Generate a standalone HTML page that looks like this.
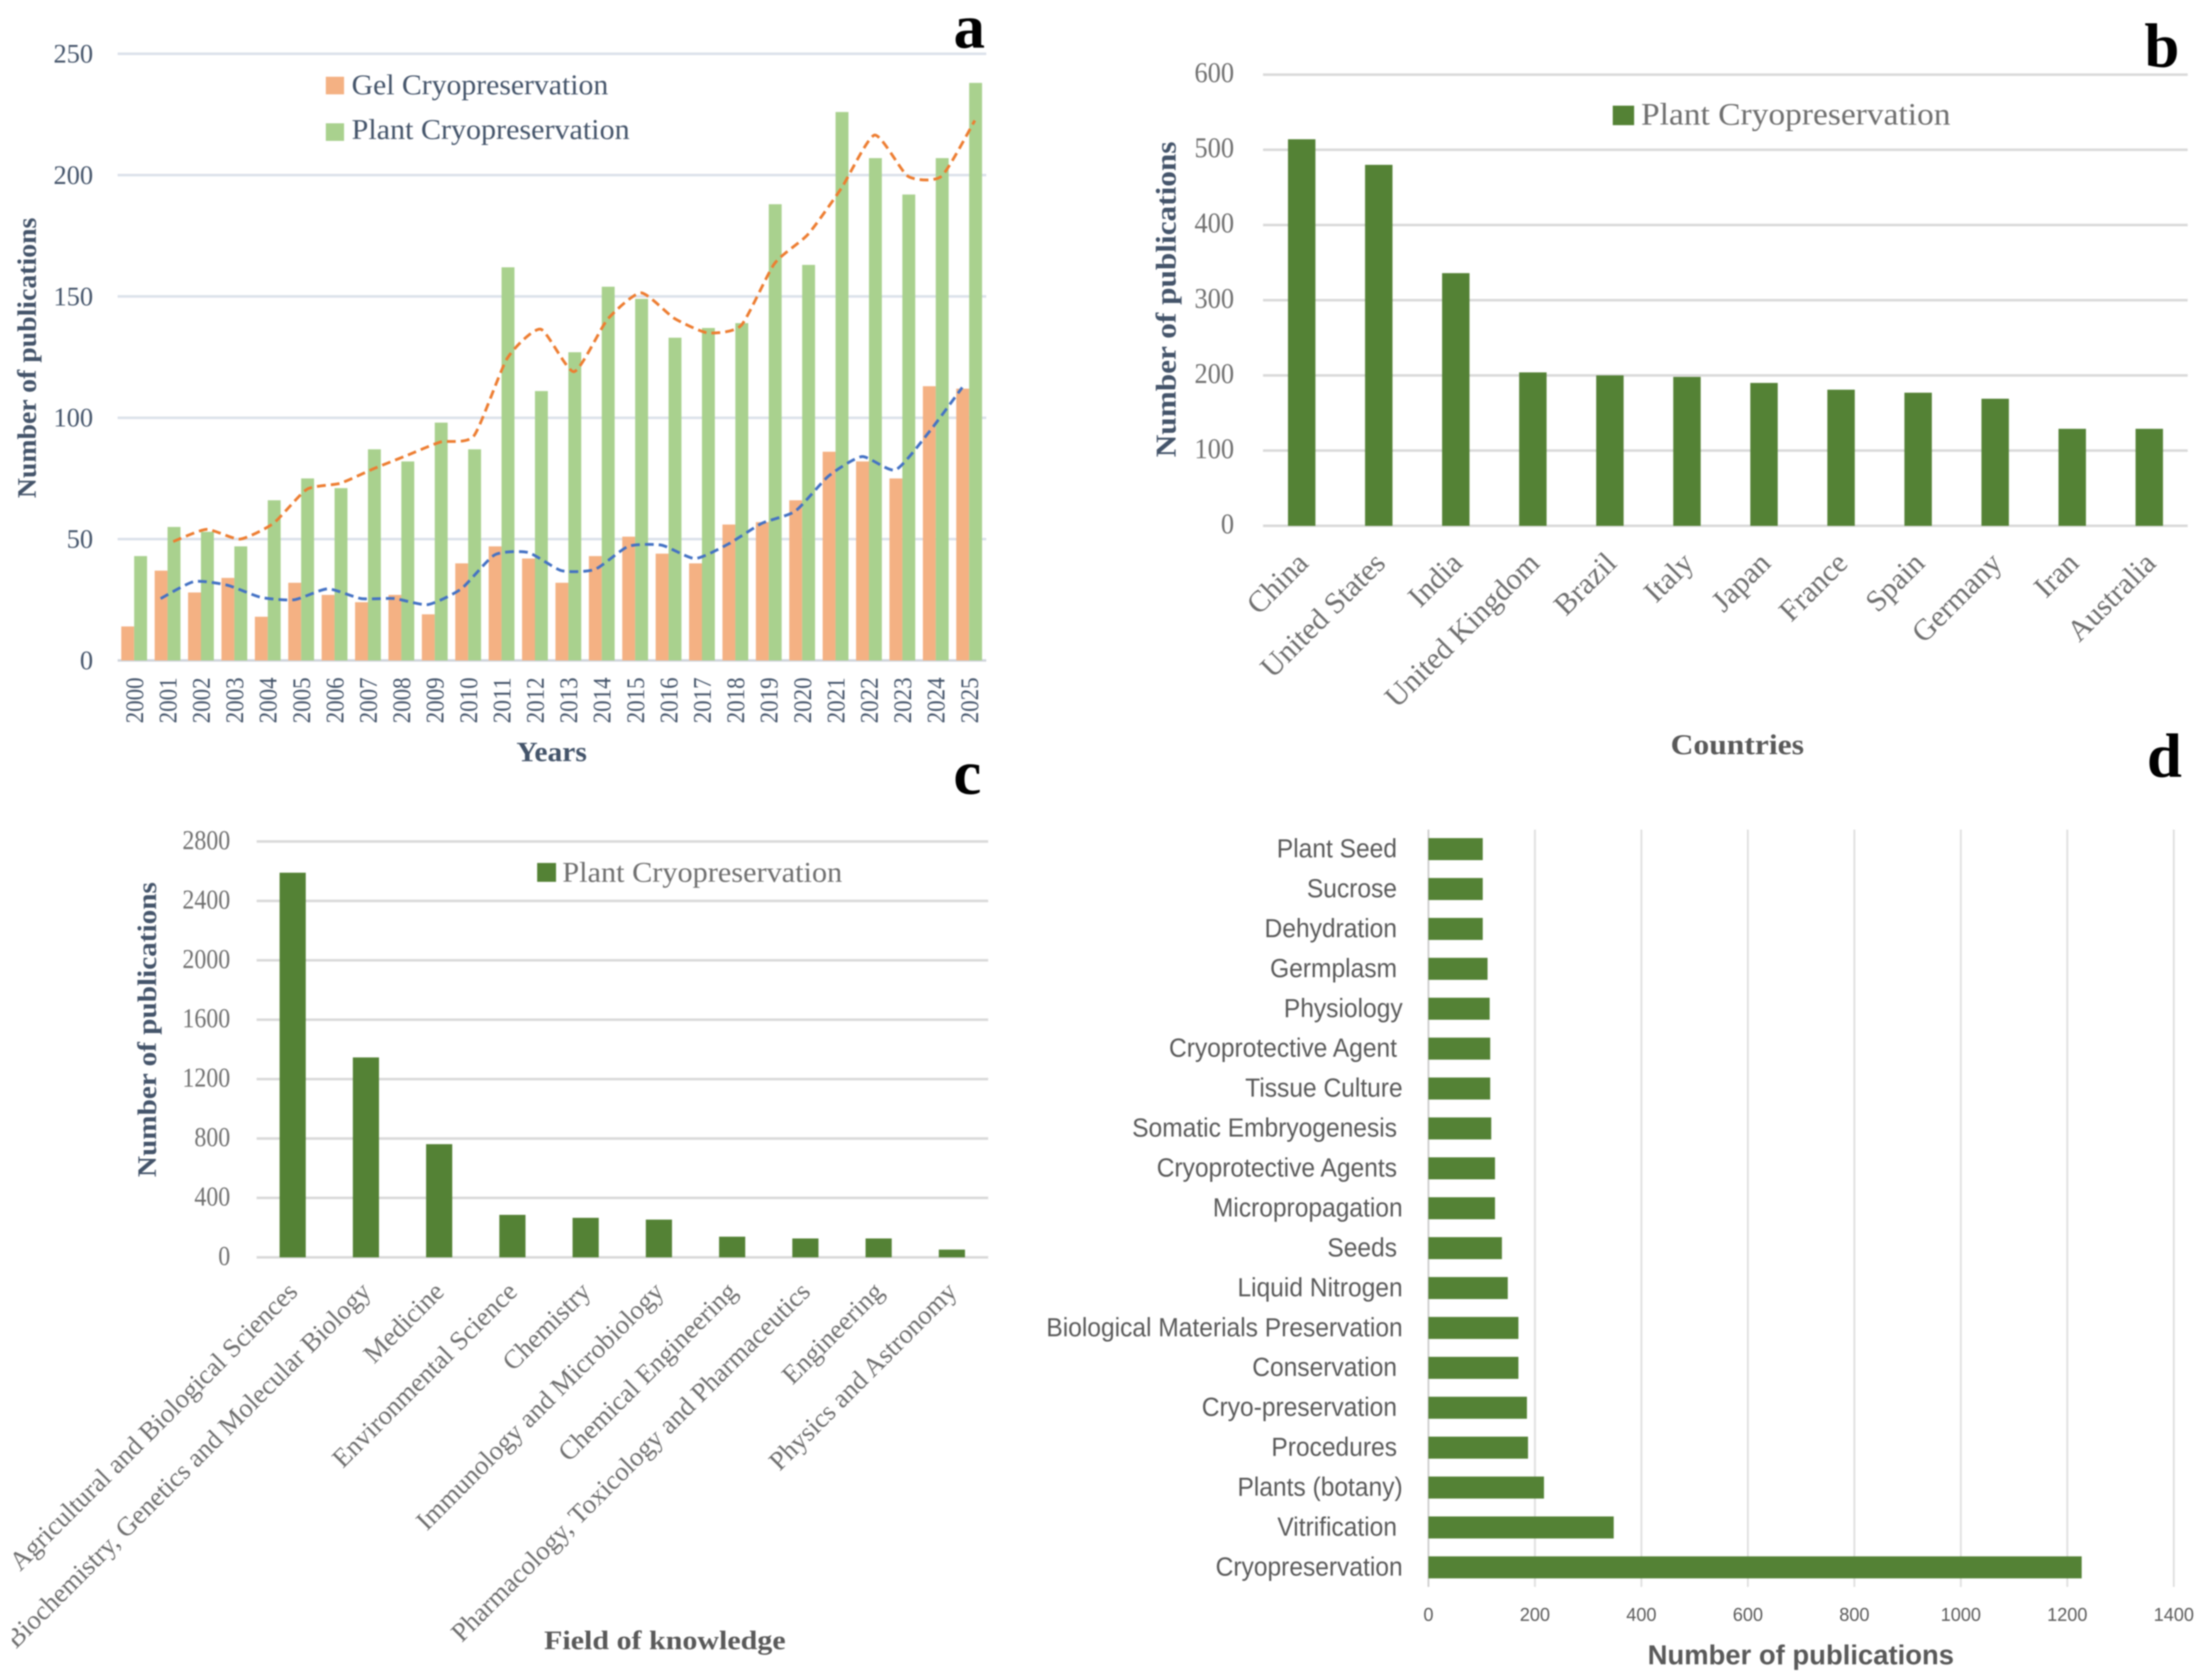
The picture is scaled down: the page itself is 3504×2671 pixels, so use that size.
<!DOCTYPE html>
<html lang="en">
<head>
<meta charset="utf-8">
<title>Cryopreservation publication charts</title>
<style>
  html,body{margin:0;padding:0;background:#fff;}
  svg{display:block;filter:blur(1.1px);}
  .serif{font-family:"Liberation Serif",serif;}
  .sans{font-family:"Liberation Sans",sans-serif;}
  .navy{fill:#44546a;}
  .grey{fill:#6f6f6f;}
  .lbl{fill:#595959;}
</style>
</head>
<body>
<svg id="figure" xmlns="http://www.w3.org/2000/svg" width="3504" height="2671" viewBox="0 0 3504 2671">
  <rect x="0" y="0" width="3504" height="2671" fill="#ffffff"/>

  <g id="panel-a">
    <g id="a-grid"></g>
    <g id="a-bars"></g>
    <g id="a-lines"></g>
    <g id="a-ticks"></g>
    <text class="serif navy" font-weight="bold" font-size="42" text-anchor="middle" textLength="446" lengthAdjust="spacingAndGlyphs" transform="translate(57,569) rotate(-90)">Number of publications</text>
    <text class="serif navy" font-weight="bold" font-size="44" text-anchor="middle" x="877" y="1210" textLength="112" lengthAdjust="spacingAndGlyphs">Years</text>
    <rect x="518" y="122" width="29" height="28" fill="#f4b183"/>
    <text class="serif navy" font-size="46" x="559" y="150" textLength="408" lengthAdjust="spacingAndGlyphs">Gel Cryopreservation</text>
    <rect x="518" y="196" width="29" height="28" fill="#a9d18e"/>
    <text class="serif navy" font-size="46" x="559" y="221" textLength="442" lengthAdjust="spacingAndGlyphs">Plant Cryopreservation</text>
    <text class="serif" font-weight="bold" font-size="100" fill="#000" text-anchor="middle" x="1541" y="76">a</text>
  </g>

  <g id="panel-b">
    <g id="b-grid"></g>
    <g id="b-bars"></g>
    <g id="b-ticks"></g>
    <text class="serif navy" font-weight="bold" font-size="46" text-anchor="middle" textLength="502" lengthAdjust="spacingAndGlyphs" transform="translate(1869,476) rotate(-90)">Number of publications</text>
    <text class="serif lbl" font-weight="bold" font-size="46" text-anchor="middle" x="2762" y="1199" textLength="212" lengthAdjust="spacingAndGlyphs">Countries</text>
    <rect x="2564" y="168" width="34" height="31" fill="#548235"/>
    <text class="serif grey" font-size="50" x="2609" y="198" textLength="492" lengthAdjust="spacingAndGlyphs">Plant Cryopreservation</text>
    <text class="serif" font-weight="bold" font-size="100" fill="#000" text-anchor="middle" x="3437" y="106">b</text>
  </g>

  <g id="panel-c">
    <g id="c-grid"></g>
    <g id="c-bars"></g>
    <g id="c-ticks"></g>
    <text class="serif navy" font-weight="bold" font-size="42" text-anchor="middle" textLength="469" lengthAdjust="spacingAndGlyphs" transform="translate(248,1637) rotate(-90)">Number of publications</text>
    <text class="serif lbl" font-weight="bold" font-size="42" text-anchor="middle" x="1057" y="2622" textLength="384" lengthAdjust="spacingAndGlyphs">Field of knowledge</text>
    <rect x="854" y="1372" width="30" height="30" fill="#548235"/>
    <text class="serif grey" font-size="46" x="894" y="1402" textLength="445" lengthAdjust="spacingAndGlyphs">Plant Cryopreservation</text>
    <text class="serif" font-weight="bold" font-size="100" fill="#000" text-anchor="middle" x="1538" y="1262">c</text>
  </g>

  <g id="panel-d">
    <g id="d-grid"></g>
    <g id="d-bars"></g>
    <g id="d-ticks"></g>
    <text class="sans lbl" font-weight="bold" font-size="44" text-anchor="middle" x="2863" y="2646" textLength="487" lengthAdjust="spacingAndGlyphs">Number of publications</text>
    <text class="serif" font-weight="bold" font-size="100" fill="#000" text-anchor="middle" x="3441" y="1235">d</text>
  </g>
</svg>

<script>
// ---- Panel a data ----
const aYears = ['2000','2001','2002','2003','2004','2005','2006','2007','2008','2009','2010','2011','2012','2013','2014','2015','2016','2017','2018','2019','2020','2021','2022','2023','2024','2025'];
const aGel = [14,37,28,34,18,32,27,24,27,19,40,47,42,32,43,51,44,40,56,57,66,86,82,75,113,112];
const aPlant = [43,55,53,47,66,75,71,87,82,98,87,162,111,127,154,149,133,137,139,188,163,226,207,192,207,238];
const aGelTrend = [25.5,32.5,31,26,25,29.5,25.5,25.5,23,29.5,43.5,44.5,37,37.5,47,47.5,42,48,56.5,61.5,76,84,78.5,94,112.5];
const aPlantTrend = [49,54,50,56.5,70.5,73,79,84.5,90,92.5,124.5,136.5,119,140.5,151.5,141,135,138,163.5,175.5,194.5,216.5,199.5,199.5,222.5];
const aTicks = [0,50,100,150,200,250];

// ---- Panel b data ----
const bCountries = ['China','United States','India','United Kingdom','Brazil','Italy','Japan','France','Spain','Germany','Iran','Australia'];
const bValues = [514,480,336,204,200,198,190,181,177,169,129,129];
const bTicks = [0,100,200,300,400,500,600];

// ---- Panel c data ----
const cFields = ['Agricultural and Biological Sciences','Biochemistry, Genetics and Molecular Biology','Medicine','Environmental Science','Chemistry','Immunology and Microbiology','Chemical Engineering','Pharmacology, Toxicology and Pharmaceutics','Engineering','Physics and Astronomy'];
const cValues = [2590,1346,762,286,266,254,139,127,127,52];
const cTicks = [0,400,800,1200,1600,2000,2400,2800];

// ---- Panel d data ----
const dKeywords = ['Plant Seed','Sucrose','Dehydration','Germplasm','Physiology','Cryoprotective Agent','Tissue Culture','Somatic Embryogenesis','Cryoprotective Agents','Micropropagation','Seeds','Liquid Nitrogen','Biological Materials Preservation','Conservation','Cryo-preservation','Procedures','Plants (botany)','Vitrification','Cryopreservation'];
const dValues = [102,102,102,111,115,116,116,118,125,125,138,149,169,169,185,187,217,348,1227];
const dTicks = [0,200,400,600,800,1000,1200,1400];
const dFlushRight = ['Physiology','Tissue Culture','Micropropagation','Liquid Nitrogen','Biological Materials Preservation','Plants (botany)','Cryopreservation'];

// ---- Axis functions ----
const aX = function (i) { return 213.3 + i * 53.1; };
const aY = function (v) { return 1050 - v * 3.858; };
const bX = function (i) { return 2069.5 + i * 122.5; };
const bY = function (v) { return 836 - v * 1.1957; };
const cX = function (i) { return 465.3 + i * 116.45; };
const cY = function (v) { return 1999 - v * 0.2361; };
const dX = function (v) { return 2271 + v * 0.8464; };
const dY = function (i) { return 1350 + i * 63.44; };

const NS = 'http://www.w3.org/2000/svg';
function node(tag, parentId, props, text) {
  const el = document.createElementNS(NS, tag);
  for (const k in props) el.setAttribute(k, props[k]);
  if (text !== undefined) el.textContent = text;
  document.getElementById(parentId).appendChild(el);
  return el;
}
function smoothPath(points) {
  let d = 'M' + points[0][0] + ' ' + points[0][1];
  for (let i = 0; i < points.length - 1; i++) {
    const p0 = points[Math.max(i - 1, 0)], p1 = points[i], p2 = points[i + 1], p3 = points[Math.min(i + 2, points.length - 1)];
    const c1x = p1[0] + (p2[0] - p0[0]) / 10, c1y = p1[1] + (p2[1] - p0[1]) / 10;
    const c2x = p2[0] - (p3[0] - p1[0]) / 10, c2y = p2[1] - (p3[1] - p1[1]) / 10;
    d += ' C' + c1x + ' ' + c1y + ' ' + c2x + ' ' + c2y + ' ' + p2[0] + ' ' + p2[1];
  }
  return d;
}

// ---- Panel a ----
aTicks.forEach(function (t) {
  const line = node('line', 'a-grid', {x1: 187, x2: 1568, y1: aY(t), y2: aY(t), stroke: t === 0 ? '#d0d5dc' : '#dbe1ea', 'stroke-width': 4});
  
  
  const label = node('text', 'a-ticks', {x: 148, y: aY(t) + 14, 'text-anchor': 'end', 'font-size': 42, class: 'serif navy'}, String(t));
  
  
});
aYears.forEach(function (year, i) {
  const gel = node('rect', 'a-bars', {x: aX(i) - 20.5, y: aY(aGel[i]), width: 20.5, height: 1050 - aY(aGel[i]), fill: '#f4b183'});
  
  
  const plant = node('rect', 'a-bars', {x: aX(i), y: aY(aPlant[i]), width: 20.5, height: 1050 - aY(aPlant[i]), fill: '#a9d18e'});
  
  
  const label = node('text', 'a-ticks', {'text-anchor': 'end', 'font-size': 40, class: 'serif navy', textLength: 73, lengthAdjust: 'spacingAndGlyphs', transform: 'translate(' + (aX(i) + 14) + ',1077) rotate(-90)'}, year);
  
  
});
const gelPts = aGelTrend.map(function (v, i) { return [aX(i + 1) - 11, aY(v)]; });
const plantPts = aPlantTrend.map(function (v, i) { return [aX(i + 1) + 9, aY(v)]; });
const gelLine = node('path', 'a-lines', {d: smoothPath(gelPts), fill: 'none', stroke: '#4472c4', 'stroke-width': 4.5, 'stroke-dasharray': '14 8'});


const plantLine = node('path', 'a-lines', {d: smoothPath(plantPts), fill: 'none', stroke: '#ed7d31', 'stroke-width': 4.5, 'stroke-dasharray': '14 8'});



// ---- Panel b ----
bTicks.forEach(function (t) {
  const line = node('line', 'b-grid', {x1: 2008, x2: 3478, y1: bY(t), y2: bY(t), stroke: '#d9d9d9', 'stroke-width': 4});
  
  
  const label = node('text', 'b-ticks', {x: 1962, y: bY(t) + 12, 'text-anchor': 'end', 'font-size': 45, class: 'serif grey', textLength: String(t).length * 21, lengthAdjust: 'spacingAndGlyphs'}, String(t));
  
  
});
bCountries.forEach(function (name, i) {
  const bar = node('rect', 'b-bars', {x: bX(i) - 21.8, y: bY(bValues[i]), width: 43.6, height: 836 - bY(bValues[i]), fill: '#548235'});
  
  
  const label = node('text', 'b-ticks', {'text-anchor': 'end', 'font-size': 48, class: 'serif grey', transform: 'translate(' + (bX(i) + 13) + ',898) rotate(-45)'}, name);
  
  
});

// ---- Panel c ----
cTicks.forEach(function (t) {
  const line = node('line', 'c-grid', {x1: 408, x2: 1571, y1: cY(t), y2: cY(t), stroke: '#d9d9d9', 'stroke-width': 4});
  
  
  const label = node('text', 'c-ticks', {x: 366, y: cY(t) + 12, 'text-anchor': 'end', 'font-size': 43, class: 'serif grey', textLength: String(t).length * 19, lengthAdjust: 'spacingAndGlyphs'}, String(t));
  
  
});
cFields.forEach(function (name, i) {
  const bar = node('rect', 'c-bars', {x: cX(i) - 20.8, y: cY(cValues[i]), width: 41.6, height: 1999 - cY(cValues[i]), fill: '#548235'});
  
  
  const label = node('text', 'c-ticks', {'text-anchor': 'end', 'font-size': 42.5, class: 'serif grey', transform: 'translate(' + (cX(i) + 10) + ',2056) rotate(-45)'}, name);
  
  
});

// ---- Panel d ----
dTicks.forEach(function (t) {
  const line = node('line', 'd-grid', {x1: dX(t), x2: dX(t), y1: 1319, y2: 2523, stroke: t === 0 ? '#cfcfcf' : '#e0e0e0', 'stroke-width': 3});
  
  
  const label = node('text', 'd-ticks', {x: dX(t), y: 2577, 'text-anchor': 'middle', 'font-size': 30, class: 'sans lbl', textLength: String(t).length * 16, lengthAdjust: 'spacingAndGlyphs'}, String(t));
  
  
});
dKeywords.forEach(function (name, i) {
  const bar = node('rect', 'd-bars', {x: dX(0), y: dY(i) - 17.5, width: dX(dValues[i]) - dX(0), height: 35, fill: '#548235'});
  
  
  const endX = dFlushRight.indexOf(name) >= 0 ? 2230 : 2221;
  const label = node('text', 'd-ticks', {'text-anchor': 'end', 'font-size': 42, class: 'sans lbl', transform: 'translate(' + endX + ',' + (dY(i) + 13) + ') scale(0.93,1)'}, name);
  
  
});

// Cover the clipped start of the longest field label in panel c
const mask = node('rect', 'panel-c', {x: 0, y: 2400, width: 19, height: 271, fill: '#ffffff'});


</script>
</body>
</html>
